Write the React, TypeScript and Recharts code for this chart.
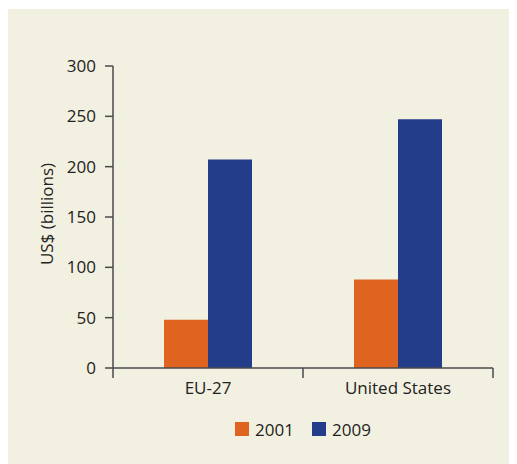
import React from 'react';
import { BarChart, Bar, XAxis, YAxis, Legend } from 'recharts';

const categories = ['EU-27', 'United States'];
const values2001 = [48, 88];
const values2009 = [207, 247];
const yTicks = [0, 50, 100, 150, 200, 250, 300];
const seriesNames = ['2001', '2009'];
const seriesColors = ['#DE6420', '#233D8B'];

const data = categories.map((name, i) => ({
  name,
  '2001': values2001[i],
  '2009': values2009[i],
}));

const CHART_W = 509;
const CHART_H = 455;
const MARGIN = { top: 57, right: 24, bottom: 14, left: 0 };
const YAXIS_W = 105;
const XAXIS_H = 40;
const LEGEND_H = 42;
const AXIS_Y = CHART_H - MARGIN.bottom - LEGEND_H - XAXIS_H;
const PLOT_W = CHART_W - MARGIN.left - MARGIN.right - YAXIS_W;
const BAND = PLOT_W / categories.length;

const FONT = '"Open Sans", sans-serif';
const FS = 17;
const TEXT = '#222';
const AXIS = '#4a4a4a';

// category labels in the middle, tick marks on the band edges
const XTick = (props: any) => {
  const { x, payload, index } = props;
  const half = BAND / 2;
  return (
    <g>
      <line x1={x - half} x2={x - half} y1={AXIS_Y} y2={AXIS_Y + 10} stroke={AXIS} strokeWidth={1.5} />
      {index === categories.length - 1 && (
        <line x1={x + half} x2={x + half} y1={AXIS_Y} y2={AXIS_Y + 10} stroke={AXIS} strokeWidth={1.5} />
      )}
      <text x={x} y={AXIS_Y + 26} textAnchor="middle" fill={TEXT} fontSize={FS} fontFamily={FONT}>
        {payload.value}
      </text>
    </g>
  );
};

const renderLegend = () => (
  <div
    style={{
      display: 'flex',
      justifyContent: 'center',
      alignItems: 'center',
      width: PLOT_W,
      marginLeft: YAXIS_W,
      height: LEGEND_H,
      fontFamily: FONT,
      fontSize: FS,
      color: TEXT,
    }}
  >
    {seriesNames.map((s, i) => (
      <div key={s} style={{ display: 'flex', alignItems: 'center', marginRight: i === 0 ? 18 : 0 }}>
        <span style={{ width: 14, height: 14, background: seriesColors[i], marginRight: 6, display: 'inline-block' }} />
        <span>{s}</span>
      </div>
    ))}
  </div>
);

export default function App() {
  return (
    <div style={{ width: CHART_W, height: CHART_H, marginTop: 1, background: '#F2F0E0' }}>
      <BarChart width={CHART_W} height={CHART_H} data={data} margin={MARGIN} barGap={0} barSize={44}>
        <XAxis
          dataKey="name"
          height={XAXIS_H}
          tickLine={false}
          axisLine={{ stroke: AXIS, strokeWidth: 1.5 }}
          tick={<XTick />}
          interval={0}
        />
        <YAxis
          width={YAXIS_W}
          domain={[0, 300]}
          ticks={yTicks}
          tickSize={8}
          tickMargin={9}
          axisLine={{ stroke: AXIS, strokeWidth: 1.5 }}
          tickLine={{ stroke: AXIS, strokeWidth: 1.5 }}
          tick={{ fill: TEXT, fontSize: FS, fontFamily: FONT }}
          label={{
            content: () => (
              <text
                x={38}
                y={205}
                transform="rotate(-90 38 205)"
                textAnchor="middle"
                dominantBaseline="central"
                fill={TEXT}
                fontSize={FS}
                fontFamily={FONT}
              >
                US$ (billions)
              </text>
            ),
          }}
        />
        <Legend verticalAlign="bottom" height={LEGEND_H} wrapperStyle={{ left: 0, width: CHART_W }} content={renderLegend} />
        {seriesNames.map((s, i) => (
          <Bar key={s} dataKey={s} fill={seriesColors[i]} isAnimationActive={false} />
        ))}
      </BarChart>
    </div>
  );
}
